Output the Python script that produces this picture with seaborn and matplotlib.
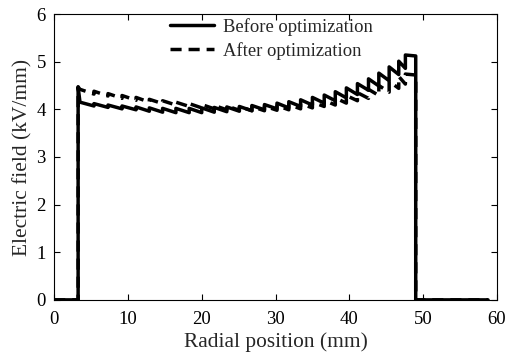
import numpy as np
import pandas as pd
import matplotlib
matplotlib.use("Agg")
import matplotlib.pyplot as plt
import seaborn as sns

# ---- data ----
# layer boundaries (mm)
bounds = [3.5, 5.4, 7.3, 9.2, 11.1, 12.9, 14.7, 16.5, 18.3, 20.0, 21.7, 23.4,
          25.1, 26.8, 28.5, 30.2, 31.8, 33.4, 35.0, 36.6, 38.1, 39.6, 41.1,
          42.6, 44.0, 45.4, 46.7, 47.6, 49.0]
# field at the inner / outer edge of every layer (kV/mm)
before_in = [4.15, 4.12, 4.09, 4.07, 4.05, 4.03, 4.02, 4.02, 4.02, 4.03, 4.04,
             4.05, 4.06, 4.08, 4.10, 4.13, 4.16, 4.20, 4.25, 4.30, 4.37, 4.45,
             4.54, 4.64, 4.76, 4.89, 5.01, 5.14]
before_out = [4.07, 4.04, 4.01, 3.99, 3.96, 3.94, 3.93, 3.93, 3.93, 3.94, 3.95,
              3.96, 3.97, 3.99, 4.01, 4.03, 4.06, 4.09, 4.13, 4.18, 4.24, 4.31,
              4.40, 4.49, 4.60, 4.73, 4.86, 5.12]
after_in = [4.42, 4.38, 4.33, 4.29, 4.25, 4.21, 4.18, 4.15, 4.12, 4.10, 4.08,
            4.07, 4.06, 4.06, 4.07, 4.08, 4.10, 4.12, 4.15, 4.19, 4.24, 4.29,
            4.35, 4.42, 4.50, 4.59, 4.69, 4.74]
after_out = [4.32, 4.28, 4.23, 4.19, 4.15, 4.12, 4.09, 4.06, 4.03, 4.01, 3.99,
             3.98, 3.97, 3.97, 3.98, 3.99, 4.01, 4.03, 4.06, 4.09, 4.13, 4.18,
             4.23, 4.29, 4.36, 4.44, 4.53, 4.72]
# edges of the insulation
inner_edge = 3.25
inner_peak = 4.47
outer_edge = 49.0
x_start, x_end = 0.0, 58.8


def profile(v_in, v_out):
    xs = [x_start, inner_edge, inner_edge]
    ys = [0.0, 0.0, inner_peak]
    for i in range(len(v_in)):
        xs += [bounds[i], bounds[i + 1]]
        ys += [v_in[i], v_out[i]]
    xs += [outer_edge, x_end]
    ys += [0.0, 0.0]
    return xs, ys


xb, yb = profile(before_in, before_out)
xa, ya = profile(after_in, after_out)
df = pd.concat([
    pd.DataFrame({"x": xb, "E": yb, "series": "Before optimization"}),
    pd.DataFrame({"x": xa, "E": ya, "series": "After optimization"}),
])

sns.set_style("ticks")
plt.rcParams["font.family"] = ["Liberation Serif", "DejaVu Serif"]

fig = plt.figure(figsize=(5.06, 3.6), dpi=100)
ax = fig.add_axes([0.107, 0.167, 0.875, 0.794])

sns.lineplot(data=df[df.series == "Before optimization"], x="x", y="E",
             sort=False, estimator=None, color="black", lw=2.5,
             label="Before optimization", ax=ax)
sns.lineplot(data=df[df.series == "After optimization"], x="x", y="E",
             sort=False, estimator=None, color="black", lw=2.5,
             linestyle=(0, (3.2, 2.0)), label="After optimization", ax=ax)

ax.set_xlim(0, 60)
ax.set_ylim(0, 6)
ax.set_xticks([0, 10, 20, 30, 40, 50, 60])
ax.set_yticks([0, 1, 2, 3, 4, 5, 6])
ax.set_xlabel("Radial position (mm)", fontsize=15.4, labelpad=3)
ax.set_ylabel("Electric field (kV/mm)", fontsize=15.4, labelpad=3)
ax.tick_params(direction="in", length=4, width=0.8, top=True, right=True,
               labelsize=13.5, colors="black")
ax.tick_params(axis="x", pad=8)
ax.tick_params(axis="y", pad=6)
for s in ax.spines.values():
    s.set_visible(True)
    s.set_linewidth(0.8)
    s.set_color("black")

leg = ax.legend(loc="upper center", bbox_to_anchor=(0.49, 1.025), frameon=False,
                fontsize=13.4, handlelength=2.4, handletextpad=0.45,
                labelspacing=0.32, borderaxespad=0.2)

fig.savefig("out.png", dpi=100)
